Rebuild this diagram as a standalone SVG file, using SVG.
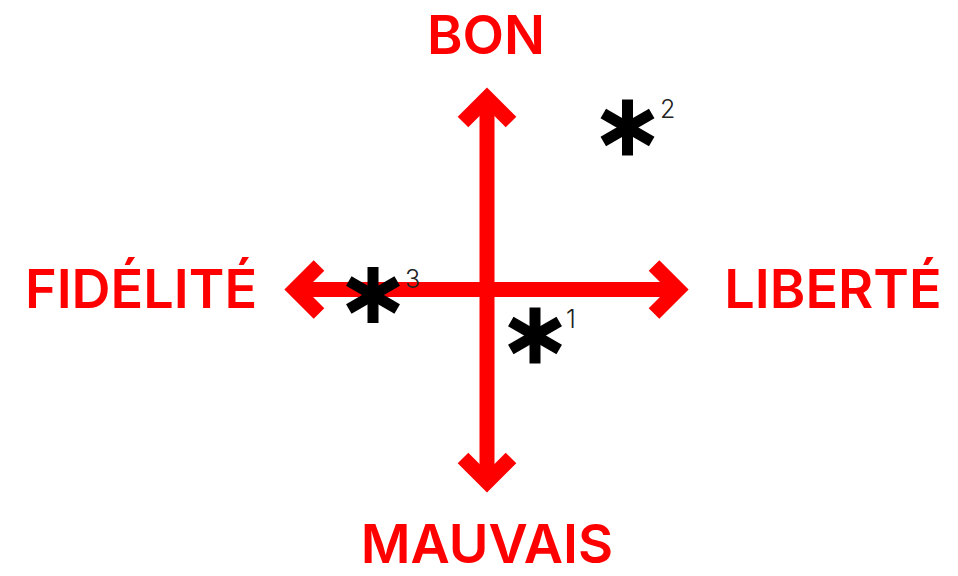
<svg xmlns="http://www.w3.org/2000/svg" width="958" height="576" viewBox="0 0 958 576">
<style>
.lbl{font-family:Inter,"Liberation Sans",sans-serif;font-weight:600;font-size:54px;fill:#ff0000;text-anchor:middle}
.ax{stroke:#ff0000;stroke-width:15;fill:none;stroke-linejoin:miter;stroke-linecap:butt}
.ast{stroke:#000;stroke-width:11;fill:none}
.sup{font-family:Inter,"Liberation Sans",sans-serif;font-weight:300;font-size:25px;fill:#222}
</style>
<defs>
<g id="star">
<line x1="0" y1="-28" x2="0" y2="28"/>
<line x1="-24.2" y1="-14" x2="24.2" y2="14"/>
<line x1="-24.2" y1="14" x2="24.2" y2="-14"/>
</g>
</defs>
<rect width="958" height="576" fill="#fff"/>
<g id="connectors" class="ax">
<path d="M487,98 V482"/>
<path d="M295,289.5 H678"/>
<path d="M463,122 L487,98 L511,122"/>
<path d="M463,458 L487,482 L511,458"/>
<path d="M319,265.5 L295,289.5 L319,313.5"/>
<path d="M654,265.5 L678,289.5 L654,313.5"/>
</g>
<g id="bon"><text class="lbl" x="486" y="54">BON</text></g>
<g id="mauvais"><text class="lbl" x="487" y="563">MAUVAIS</text></g>
<g id="fidelite"><text class="lbl" x="141" y="308">FIDÉLITÉ</text></g>
<g id="liberte"><text class="lbl" x="833" y="308">LIBERTÉ</text></g>
<g id="note1"><use href="#star" class="ast" x="535" y="335.5"/><text class="sup" x="566" y="328">1</text></g>
<g id="note2"><use href="#star" class="ast" x="627.5" y="127.5"/><text class="sup" x="660" y="118">2</text></g>
<g id="note3"><use href="#star" class="ast" x="373" y="295"/><text class="sup" x="405" y="288">3</text></g>
</svg>
